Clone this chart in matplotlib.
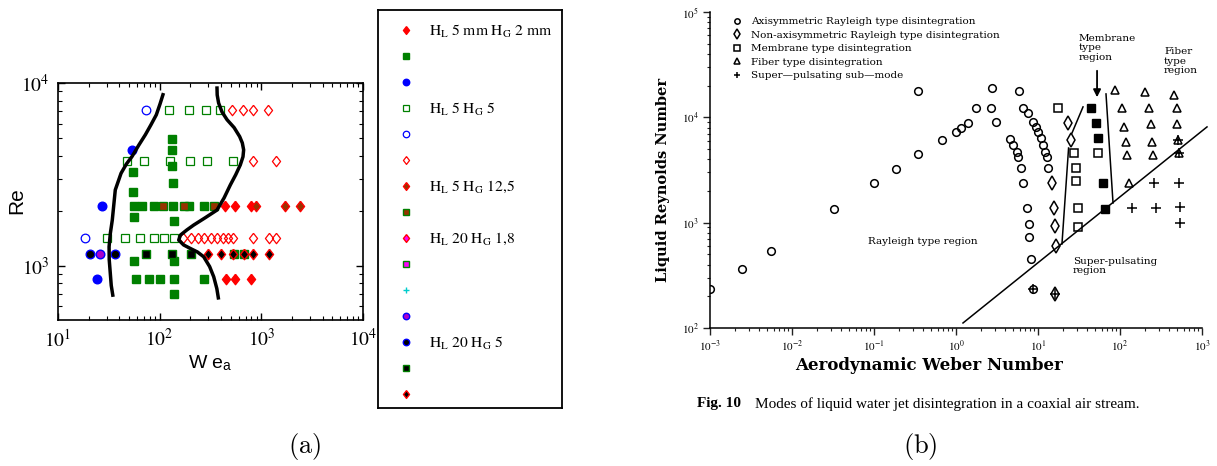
import matplotlib
matplotlib.use("Agg")
import matplotlib.pyplot as plt
from matplotlib.ticker import NullFormatter

plt.rcParams["mathtext.fontset"] = "stix"

# -------------------------
# Panel (a): We_a vs Re
# -------------------------

red_fill_we = [443, 547, 791, 449, 555, 797]
red_fill_re = [2124, 2124, 2124, 848, 848, 848]

green_fill_we = [133, 133, 133, 135, 137, 54.2, 54.2, 55.5, 55.5, 137, 137,
                 55.5, 67, 87.3, 135, 196, 271,
                 58.9, 78, 100, 137, 271, 535, 670]
green_fill_re = [4955, 4305, 3525, 2830, 1764, 3262, 2547, 1858, 1061, 1061, 705,
                 2124, 2124, 2124, 2124, 2124, 2124,
                 848, 848, 848, 848, 848, 1154, 1154]

blue_fill_we = [53.5, 27.3, 24.0]
blue_fill_re = [4305, 2124, 848]

green_open_we = [124.5, 196, 286, 389,
                 47.7, 70.6, 127, 200, 292, 522,
                 30.3, 45.9, 64.6, 87.3, 111, 137]
green_open_re = [7080, 7080, 7080, 7080,
                 3765, 3765, 3765, 3765, 3765, 3765,
                 1412, 1412, 1412, 1412, 1412, 1412]

blue_open_we = [72.8, 18.6]
blue_open_re = [7080, 1412]

red_open_we = [514, 655, 822, 1164, 822, 1384,
               170, 205, 238, 275, 320, 366, 417, 470, 522, 822, 1180, 1406]
red_open_re = [7080, 7080, 7080, 7080, 3765, 3765,
               1412, 1412, 1412, 1412, 1412, 1412, 1412, 1412, 1412, 1412, 1412, 1412]

brown_dia_we = [893, 1698, 2382]
brown_dia_re = [2124, 2124, 2124]

brown_sq_we = [107, 172, 340]
brown_sq_re = [2124, 2124, 2124]

purple_circ_we = [26.1]
purple_circ_re = [1154]

black_circ_we = [20.5, 36.1]
black_circ_re = [1154, 1154]

black_sq_we = [72.8, 131, 205]
black_sq_re = [1154, 1154, 1154]

black_dia_we = [296, 401, 526, 670, 828, 1180]
black_dia_re = [1154, 1154, 1154, 1154, 1154, 1154]

# regime boundaries (black curves)
left_curve_we = [34.8, 33.4, 32.7, 31.9, 31.8, 32.7, 34.2, 36.6, 41.7, 47.0, 53.5, 62.0, 72.3, 82.0, 92.7, 101, 109]
left_curve_re = [676, 780, 907, 1080, 1271, 1500, 1780, 2602, 3206, 3600, 3963, 4550, 5210, 5900, 6700, 7700, 8810]

right_curve_we = [380, 365, 340, 310, 271, 235, 200, 172, 154, 160, 185, 216, 280, 366, 430, 495, 560,
                  621, 660, 670, 650, 612, 540, 460, 410, 380, 368, 366]
right_curve_re = [653, 750, 871, 990, 1120, 1190, 1244, 1300, 1382, 1472, 1570, 1670, 1830, 2017, 2350,
                  2766, 3150, 3563, 3950, 4306, 4700, 5093, 5700, 6297, 6950, 7770, 8600, 9590]

legend_a_labels = [r"$\mathrm{H_L\ 5\ mm\ H_G\ 2\ mm}$", "", "", r"$\mathrm{H_L\ 5\ H_G\ 5}$", "", "",
                   r"$\mathrm{H_L\ 5\ H_G\ 12{,}5}$", "", r"$\mathrm{H_L\ 20\ H_G\ 1{,}8}$", "", "", "",
                   r"$\mathrm{H_L\ 20\ H_G\ 5}$", "", ""]

# -------------------------
# Panel (b): Weber vs Reynolds
# -------------------------

axi_we = [0.001, 0.00243, 0.00555, 0.0328, 0.101, 0.184, 0.347, 0.347, 0.681, 1.0, 1.14, 1.39,
          1.75, 2.65, 2.72, 3.08, 5.92, 6.50, 7.48,
          8.77, 9.46, 10.1, 10.8, 11.6, 12.2, 12.8, 13.4,
          4.56, 4.91, 5.50, 5.65, 6.21, 6.62, 7.41, 7.76, 7.85, 8.13, 8.71]
axi_re = [233, 361, 542, 1340, 2400, 3214, 4467, 17820, 6095, 7211, 7980, 8913,
          12220, 12220, 19140, 8970, 17820, 12360, 10940,
          9120, 8166, 7328, 6324, 5470, 4720, 4178, 3289,
          6194, 5470, 4720, 4178, 3289, 2400, 1371, 973, 736, 449, 237]

nonaxi_we = [22.9, 25.1, 14.7, 15.8, 16.1, 16.6, 16.1]
nonaxi_re = [8913, 6095, 2400, 1387, 931, 601, 212]

membrane_we = [17.7, 27.5, 29.0, 29.0, 30.5, 30.9, 54.6]
membrane_re = [12360, 4560, 3289, 2506, 1387, 916, 4560]

membrane_fill_we = [44.0, 50.9, 54.6, 62.8, 65.6]
membrane_fill_re = [12360, 8913, 6324, 2400, 1340]

fiber_we = [86.9, 201.8, 456, 104.7, 227.5, 490, 113, 239, 500, 117.5, 243, 506,
            120.5, 255, 520, 129.7]
fiber_re = [18200, 17540, 16330, 12220, 12220, 12220, 8054, 8650, 8650, 5875, 5875, 6095,
            4395, 4395, 4560, 2366]

pulse_we = [260, 525, 141, 272, 540, 540, 8.71, 16.1, 506, 520]
pulse_re = [2366, 2400, 1371, 1371, 1400, 1000, 237, 212, 6095, 4560]

diag_we = [1.217, 1151]
diag_re = [111.6, 8110]
memb_left_we = [19.6, 23.6]
memb_left_re = [628, 5115]
memb_top_we = [26.0, 35.4]
memb_top_re = [7110, 12560]
memb_right_we = [67.5, 82.2]
memb_right_re = [16680, 1538]

# -------------------------
# Figure
# -------------------------

W, H = 1217, 466
fig = plt.figure(figsize=(W / 100, H / 100), dpi=100)


def box(l, t, r, b):
    return [l / W, 1 - b / H, (r - l) / W, (b - t) / H]


def txt(px, py, s, **kw):
    fig.text(px / W, 1 - py / H, s, **kw)


# ---- panel (a)
ax = fig.add_axes(box(58, 83, 363, 320))
ax.set_xscale("log")
ax.set_yscale("log")

dia = [(0, 1), (0.78, 0), (0, -1), (-0.78, 0), (0, 1)]
GREEN, BLUE, RED, BROWN = "#008000", "#0000ff", "#ff0000", "#993300"

styles = [
    (red_fill_we, red_fill_re, dict(marker=dia, ms=7.5, mfc=RED, mec=RED)),
    (green_fill_we, green_fill_re, dict(marker="s", ms=5.2, mfc=GREEN, mec=GREEN)),
    (blue_fill_we, blue_fill_re, dict(marker="o", ms=6.2, mfc=BLUE, mec=BLUE)),
    (green_open_we, green_open_re, dict(marker="s", ms=5.2, mfc="none", mec=GREEN, mew=0.9)),
    (blue_open_we, blue_open_re, dict(marker="o", ms=6.2, mfc="none", mec=BLUE, mew=0.9)),
    (red_open_we, red_open_re, dict(marker=dia, ms=7.5, mfc="none", mec=RED, mew=0.9)),
    (brown_dia_we, brown_dia_re, dict(marker=dia, ms=7.5, mfc=BROWN, mec=RED)),
    (brown_sq_we, brown_sq_re, dict(marker="s", ms=5.2, mfc=BROWN, mec=GREEN)),
    ([], [], dict(marker=dia, ms=7.5, mfc="#ff00ff", mec=RED)),
    ([], [], dict(marker="s", ms=5.2, mfc="#ff00ff", mec=GREEN)),
    ([], [], dict(marker="+", ms=6, mec="#00cccc", mew=1)),
    (purple_circ_we, purple_circ_re, dict(marker="o", ms=6.2, mfc="#aa00cc", mec=BLUE)),
    (black_circ_we, black_circ_re, dict(marker="o", ms=6.2, mfc="black", mec=BLUE)),
    (black_sq_we, black_sq_re, dict(marker="s", ms=5.2, mfc="black", mec=GREEN)),
    (black_dia_we, black_dia_re, dict(marker=dia, ms=7.5, mfc="black", mec=RED)),
]

for we, re_, st in styles:
    ax.plot(we, re_, ls="none", **st)

ax.plot(left_curve_we, left_curve_re, color="black", lw=2.5, solid_capstyle="butt")
ax.plot(right_curve_we, right_curve_re, color="black", lw=2.5, solid_capstyle="butt")

ax.set_xlim(10, 1e4)
ax.set_ylim(505, 1e4)
ax.set_xticks([10, 100, 1000, 10000])
ax.set_xticklabels([r"$10^{1}$", r"$10^{2}$", r"$10^{3}$", r"$10^{4}$"])
ax.set_yticks([1000, 10000])
ax.set_yticklabels([r"$10^{3}$", r"$10^{4}$"])
ax.xaxis.set_minor_formatter(NullFormatter())
ax.yaxis.set_minor_formatter(NullFormatter())
ax.tick_params(which="both", direction="in", top=True, right=True, labelsize=14, pad=6)
ax.tick_params(which="major", length=5, width=1)
ax.tick_params(which="minor", length=3, width=0.8)
for s in ax.spines.values():
    s.set_linewidth(1.2)
ax.set_xlabel(r"W e$_{\mathregular{a}}$", family="Liberation Sans", fontsize=14, labelpad=2)
ax.set_ylabel("Re", family="Liberation Sans", fontsize=15)
ax.yaxis.set_label_coords(-(58 - 26) / 305, (320 - 201) / 237)

# legend box of panel (a)
lg = fig.add_axes(box(378, 10, 562, 408))
lg.set_xlim(378, 562)
lg.set_ylim(408, 10)
lg.set_xticks([])
lg.set_yticks([])
for s in lg.spines.values():
    s.set_linewidth(1.3)
for i, (we, re_, st) in enumerate(styles):
    st = dict(st)
    st["ms"] = st["ms"] * 0.75
    lg.plot([406], [30 + 26.0 * i], ls="none", **st)
    if legend_a_labels[i]:
        lg.text(429, 31 + 26.0 * i, legend_a_labels[i], fontsize=11.2, va="center", ha="left")

txt(305, 447, r"$\mathrm{(a)}$", fontsize=19, ha="center", va="center", math_fontfamily="cm")

# ---- panel (b)
bx = fig.add_axes(box(710, 12, 1202, 328))
bx.set_xscale("log")
bx.set_yscale("log")

serif = "DejaVu Serif"
h1, = bx.plot(axi_we, axi_re, ls="none", marker="o", ms=5.5, mfc="none", mec="black", mew=1.1,
              label="Axisymmetric Rayleigh type disintegration")
h2, = bx.plot(nonaxi_we, nonaxi_re, ls="none", marker="d", ms=7, mfc="none", mec="black", mew=1.1,
              label="Non-axisymmetric Rayleigh type disintegration")
h3, = bx.plot(membrane_we, membrane_re, ls="none", marker="s", ms=5.5, mfc="none", mec="black", mew=1.1,
              label="Membrane type disintegration")
bx.plot(membrane_fill_we, membrane_fill_re, ls="none", marker="s", ms=5.5, mfc="black", mec="black")
h4, = bx.plot(fiber_we, fiber_re, ls="none", marker="^", ms=6, mfc="none", mec="black", mew=1.1,
              label="Fiber type disintegration")
h5, = bx.plot(pulse_we, pulse_re, ls="none", marker="+", ms=7, mec="black", mew=1.1,
              label="Super\u2014pulsating sub\u2014mode")

for we, re_ in [(diag_we, diag_re), (memb_left_we, memb_left_re),
                (memb_top_we, memb_top_re), (memb_right_we, memb_right_re)]:
    bx.plot(we, re_, color="black", lw=1.1, clip_on=False)

bx.annotate("", xy=(52.5, 14600), xytext=(52.5, 29400),
            arrowprops=dict(arrowstyle="-|>", color="black", lw=1.3, mutation_scale=11))

bx.set_xlim(1e-3, 1e3)
bx.set_ylim(1e2, 1e5)
bx.set_xticks([1e-3, 1e-2, 1e-1, 1, 10, 100, 1000])
bx.set_xticklabels([r"$10^{-3}$", r"$10^{-2}$", r"$10^{-1}$", r"$10^{0}$",
                    r"$10^{1}$", r"$10^{2}$", r"$10^{3}$"])
bx.set_yticks([1e2, 1e3, 1e4, 1e5])
bx.set_yticklabels([r"$10^{2}$", r"$10^{3}$", r"$10^{4}$", r"$10^{5}$"])
bx.xaxis.set_minor_formatter(NullFormatter())
bx.yaxis.set_minor_formatter(NullFormatter())
bx.tick_params(which="both", direction="out", labelsize=8, pad=3, color="#222222")
bx.tick_params(which="major", length=5, width=1)
bx.tick_params(which="minor", length=2.5, width=0.8)
bx.spines["top"].set_visible(False)
bx.spines["right"].set_visible(False)
bx.spines["left"].set_linewidth(1.1)
bx.spines["bottom"].set_linewidth(1.1)

bx.set_xlabel("Aerodynamic Weber Number", family=serif, fontweight="bold", fontsize=12)
bx.xaxis.set_label_coords((929 - 710) / 492, -(357 - 328) / 316)
bx.set_ylabel("Liquid Reynolds Number", family=serif, fontweight="bold", fontsize=10.5)
bx.yaxis.set_label_coords(-(710 - 670) / 492, (328 - 180) / 316)

bx.legend(handles=[h1, h2, h3, h4, h5], loc="upper left", bbox_to_anchor=(727 / W, 1 - 12 / H),
          bbox_transform=fig.transFigure, frameon=False, prop=dict(family=serif, size=7.5),
          handlelength=1.0, handletextpad=0.8, labelspacing=0.4, borderpad=0, markerscale=0.7)

txt(1079, 48, "Membrane\ntype\nregion", family=serif, fontsize=7.5, ha="left", va="center",
    linespacing=1.1)
txt(1164, 61, "Fiber\ntype\nregion", family=serif, fontsize=7.5, ha="left", va="center",
    linespacing=1.1)
txt(923, 242, "Rayleigh type region", family=serif, fontsize=7.5, ha="center", va="center")
txt(1073, 266, "Super-pulsating\nregion", family=serif, fontsize=7.5, ha="left", va="center",
    linespacing=1.1)

txt(697, 404, "Fig. 10", family="Liberation Serif", fontweight="bold", fontsize=11,
    ha="left", va="center")
txt(755, 404, "Modes of liquid water jet disintegration in a coaxial air stream.",
    family="Liberation Serif", fontsize=11, ha="left", va="center")
txt(920, 447, r"$\mathrm{(b)}$", fontsize=19, ha="center", va="center", math_fontfamily="cm")

fig.savefig("out.png", dpi=100)
